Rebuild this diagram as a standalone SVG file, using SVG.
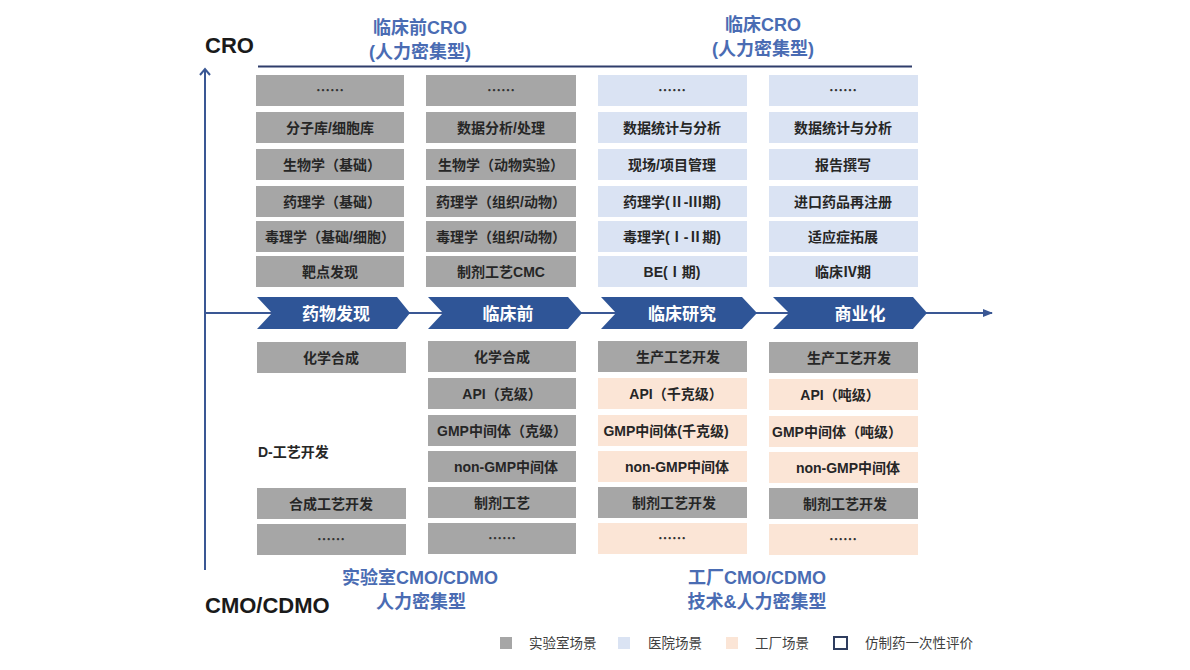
<svg xmlns="http://www.w3.org/2000/svg" width="1190" height="670" viewBox="0 0 1190 670">
<defs>
<style>
text{font-family:"Liberation Sans","Noto Sans CJK SC",sans-serif;}
.bx text{font-size:14px;font-weight:bold;fill:#262626;text-anchor:middle;}
.bx text.dots{font-family:"Noto Sans CJK SC",sans-serif;font-weight:bold;font-size:14px;fill:#333333;}
.g rect{fill:#a6a6a6;}
.b rect{fill:#dae3f3;}
.p rect{fill:#fbe5d6;}
.chev path{fill:#2f5597;}
.chev text{font-size:17px;font-weight:bold;fill:#ffffff;text-anchor:middle;}
.title{font-size:18px;font-weight:bold;fill:#4a6cb3;text-anchor:middle;}
.axisl{font-size:22px;font-weight:bold;fill:#1a1a1a;}
.leg{font-size:13.5px;fill:#404040;font-family:"Noto Sans CJK SC",sans-serif;}
.ax{stroke:#3a5794;stroke-width:2;fill:none;}
</style>
<marker id="tri" viewBox="0 0 10 8" refX="9" refY="4" markerWidth="10" markerHeight="8" markerUnits="userSpaceOnUse" orient="auto">
<path d="M0,0 L10,4 L0,8 Z" fill="#3a5794"/>
</marker>
</defs>
<rect width="1190" height="670" fill="#ffffff"/>

<g id="connectors">
<line class="ax" x1="205" y1="570" x2="205" y2="69"/>
<polyline class="ax" points="200,75 205,69 210,75"/>
<line class="ax" x1="205" y1="313" x2="992" y2="313" marker-end="url(#tri)"/>
<line x1="258" y1="66.5" x2="912" y2="66.5" stroke="#2f3d6b" stroke-width="2"/>
</g>

<g id="axis-labels">
<text class="axisl" x="205" y="53">CRO</text>
<text class="axisl" x="205" y="613">CMO/CDMO</text>
</g>

<g id="titles">
<text class="title" x="420" y="34">临床前CRO</text>
<text class="title" x="420" y="58">(人力密集型)</text>
<text class="title" x="763" y="31">临床CRO</text>
<text class="title" x="763" y="55">(人力密集型)</text>
<text class="title" x="420" y="584">实验室CMO/CDMO</text>
<text class="title" x="421" y="608">人力密集型</text>
<text class="title" x="757" y="584">工厂CMO/CDMO</text>
<text class="title" x="757" y="608">技术&amp;人力密集型</text>
</g>

<g id="stages" class="chev">
<g id="stage-discovery"><path d="M257,297 L397,297 L410,313 L397,329 L257,329 L272,313 Z"/><text x="336" y="320">药物发现</text></g>
<g id="stage-preclinical"><path d="M428,297 L568,297 L582,313 L568,329 L428,329 L443,313 Z"/><text x="508" y="320">临床前</text></g>
<g id="stage-clinical"><path d="M601,297 L742,297 L757,313 L742,329 L601,329 L616,313 Z"/><text x="682" y="320">临床研究</text></g>
<g id="stage-commercial"><path d="M773,297 L913,297 L927,313 L913,329 L773,329 L789,313 Z"/><text x="860" y="320">商业化</text></g>
</g>

<g id="cro-discovery" class="bx g">
<rect x="256" y="75" width="148" height="31"/><text class="dots" x="330" y="95">……</text>
<rect x="256" y="112" width="148" height="31"/><text x="330" y="132.5">分子库/细胞库</text>
<rect x="256" y="149" width="148" height="31"/><text x="332" y="169.5">生物学（基础）</text>
<rect x="256" y="186" width="148" height="31"/><text x="332" y="206.5">药理学（基础）</text>
<rect x="256" y="221" width="148" height="31"/><text x="330" y="241.5">毒理学（基础/细胞）</text>
<rect x="256" y="256" width="148" height="31"/><text x="330" y="276.5">靶点发现</text>
</g>

<g id="cro-preclinical" class="bx g">
<rect x="426" y="75" width="150" height="31"/><text class="dots" x="501" y="95">……</text>
<rect x="426" y="112" width="150" height="31"/><text x="501" y="132.5">数据分析/处理</text>
<rect x="426" y="149" width="150" height="31"/><text x="501" y="169.5">生物学（动物实验）</text>
<rect x="426" y="186" width="150" height="31"/><text x="501" y="206.5">药理学（组织/动物）</text>
<rect x="426" y="221" width="150" height="31"/><text x="501" y="241.5">毒理学（组织/动物）</text>
<rect x="426" y="256" width="150" height="31"/><text x="501" y="276.5">制剂工艺CMC</text>
</g>

<g id="cro-clinical" class="bx b">
<rect x="598" y="75" width="149" height="31"/><text class="dots" x="672" y="95">……</text>
<rect x="598" y="112" width="149" height="31"/><text x="672" y="132.5">数据统计与分析</text>
<rect x="598" y="149" width="149" height="31"/><text x="672" y="169.5">现场/项目管理</text>
<rect x="598" y="186" width="149" height="31"/><text x="672" y="206.5">药理学(Ⅱ-Ⅲ期)</text>
<rect x="598" y="221" width="149" height="31"/><text x="672" y="241.5">毒理学(Ⅰ-Ⅱ期)</text>
<rect x="598" y="256" width="149" height="31"/><text x="672" y="276.5">BE(Ⅰ期)</text>
</g>

<g id="cro-commercial" class="bx b">
<rect x="769" y="75" width="149" height="31"/><text class="dots" x="843" y="95">……</text>
<rect x="769" y="112" width="149" height="31"/><text x="843" y="132.5">数据统计与分析</text>
<rect x="769" y="149" width="149" height="31"/><text x="843" y="169.5">报告撰写</text>
<rect x="769" y="186" width="149" height="31"/><text x="843" y="206.5">进口药品再注册</text>
<rect x="769" y="221" width="149" height="31"/><text x="843" y="241.5">适应症拓展</text>
<rect x="769" y="256" width="149" height="31"/><text x="843" y="276.5">临床Ⅳ期</text>
</g>

<g id="cmo-discovery" class="bx g">
<rect x="257" y="342" width="149" height="31"/><text x="331" y="362.5">化学合成</text>
<text x="258" y="457" style="text-anchor:start">D-工艺开发</text>
<rect x="257" y="488" width="149" height="31"/><text x="331" y="508.5">合成工艺开发</text>
<rect x="257" y="524" width="149" height="31"/><text class="dots" x="331" y="544">……</text>
</g>

<g id="cmo-preclinical" class="bx g">
<rect x="428" y="341" width="148" height="31"/><text x="502" y="361.5">化学合成</text>
<rect x="428" y="378" width="148" height="31"/><text x="502" y="398.5">API（克级）</text>
<rect x="428" y="415" width="148" height="31"/><text x="502" y="435.5">GMP中间体（克级）</text>
<rect x="428" y="451" width="148" height="31"/><text x="506" y="471.5">non-GMP中间体</text>
<rect x="428" y="487" width="148" height="31"/><text x="502" y="507.5">制剂工艺</text>
<rect x="428" y="523" width="148" height="31"/><text class="dots" x="502" y="543">……</text>
</g>

<g id="cmo-clinical" class="bx">
<g class="g"><rect x="598" y="341" width="149" height="31"/><text x="678" y="361.5">生产工艺开发</text></g>
<g class="p"><rect x="598" y="378" width="149" height="31"/><text x="676" y="398.5">API（千克级）</text></g>
<g class="p"><rect x="598" y="415" width="149" height="31"/><text x="666" y="435.5">GMP中间体(千克级)</text></g>
<g class="p"><rect x="598" y="451" width="149" height="31"/><text x="677" y="471.5">non-GMP中间体</text></g>
<g class="g"><rect x="598" y="487" width="149" height="31"/><text x="674" y="507.5">制剂工艺开发</text></g>
<g class="p"><rect x="598" y="523" width="149" height="31"/><text class="dots" x="672" y="543">……</text></g>
</g>

<g id="cmo-commercial" class="bx">
<g class="g"><rect x="769" y="342" width="149" height="31"/><text x="849" y="362.5">生产工艺开发</text></g>
<g class="p"><rect x="769" y="379" width="149" height="31"/><text x="840" y="399.5">API（吨级）</text></g>
<g class="p"><rect x="769" y="416" width="149" height="31"/><text x="837" y="436.5">GMP中间体（吨级）</text></g>
<g class="p"><rect x="769" y="452" width="149" height="31"/><text x="848" y="472.5">non-GMP中间体</text></g>
<g class="g"><rect x="769" y="488" width="149" height="31"/><text x="845" y="508.5">制剂工艺开发</text></g>
<g class="p"><rect x="769" y="524" width="149" height="31"/><text class="dots" x="843" y="544">……</text></g>
</g>

<g id="legend">
<rect x="500" y="637" width="12" height="12" fill="#a6a6a6"/>
<text class="leg" x="529" y="648">实验室场景</text>
<rect x="618" y="637" width="12" height="12" fill="#dae3f3"/>
<text class="leg" x="648" y="648">医院场景</text>
<rect x="726" y="637" width="12" height="12" fill="#fbe5d6"/>
<text class="leg" x="755" y="648">工厂场景</text>
<rect x="834" y="637" width="13" height="12" fill="none" stroke="#2f3d5f" stroke-width="2"/>
<text class="leg" x="865" y="648">仿制药一次性评价</text>
</g>
</svg>
